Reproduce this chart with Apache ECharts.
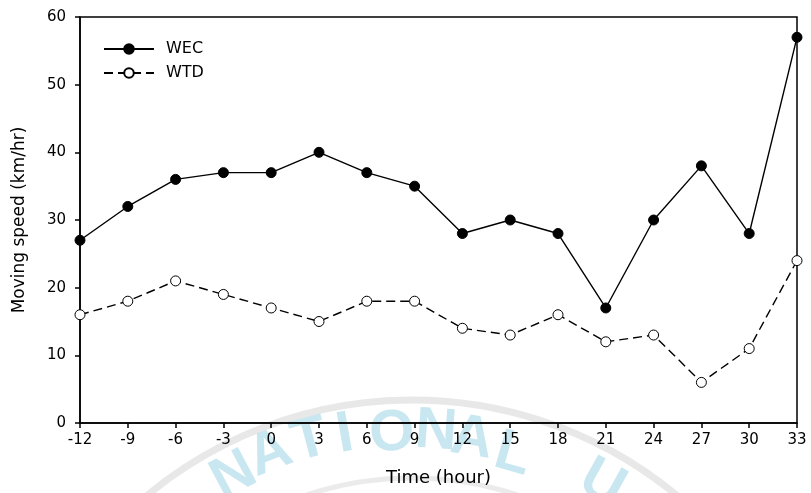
<!DOCTYPE html>
<html>
<head>
<meta charset="utf-8">
<script src="https://cdn.jsdelivr.net/npm/echarts@6/dist/echarts.min.js"></script>
<style>html,body{margin:0;padding:0;background:#fff}#c{width:811px;height:493px}</style>
</head>
<body>
<div id="c"></div>
<script>
const hours = [-12, -9, -6, -3, 0, 3, 6, 9, 12, 15, 18, 21, 24, 27, 30, 33];
const wec = [27, 32, 36, 37, 37, 40, 37, 35, 28, 30, 28, 17, 30, 38, 28, 57];
const wtd = [16, 18, 21, 19, 17, 15, 18, 18, 14, 13, 16, 12, 13, 6, 11, 24];
const seriesNames = ['WEC', 'WTD'];
const xTitle = 'Time (hour)';
const yTitle = 'Moving speed (km/hr)';

const FONT = '"DejaVu Sans", sans-serif';
const WMFONT = '"Liberation Sans", Arial, sans-serif';
const chart = echarts.init(document.getElementById('c'), null, {renderer: 'canvas'});

// watermark (decorative)
const wmLetters = [
  {t: 'N', x: 234, y: 476, r: 28},
  {t: 'A', x: 270, y: 454, r: 21},
  {t: 'T', x: 310, y: 441, r: 15},
  {t: 'I', x: 345, y: 435, r: 10},
  {t: 'O', x: 392, y: 434, r: 3},
  {t: 'N', x: 436, y: 432, r: -4},
  {t: 'A', x: 472, y: 439, r: -9},
  {t: 'L', x: 513, y: 455, r: -16},
  {t: 'U', x: 602, y: 484, r: -29}
];
const graphics = [
  {type: 'arc', z: -10, silent: true, shape: {cx: 412, cy: 815, r: 415, startAngle: Math.PI * 1.1, endAngle: Math.PI * 1.9},
   style: {stroke: 'rgba(190,190,190,0.35)', lineWidth: 7, fill: null}},
  {type: 'arc', z: -10, silent: true, shape: {cx: 412, cy: 815, r: 337, startAngle: Math.PI * 1.3, endAngle: Math.PI * 1.7},
   style: {stroke: 'rgba(190,190,190,0.3)', lineWidth: 5, fill: null}}
];
wmLetters.forEach(l => graphics.push({
  type: 'text', z: -9, silent: true, x: l.x, y: l.y, rotation: l.r * Math.PI / 180,
  style: {text: l.t, fill: 'rgba(120,195,220,0.4)', font: 'bold 58px ' + WMFONT, align: 'center', verticalAlign: 'middle'}
}));

chart.setOption({
  animation: false,
  backgroundColor: '#fff',
  graphic: graphics,
  grid: {left: 80, right: 14, top: 17, bottom: 70, show: true, borderColor: '#000', borderWidth: 1.5, backgroundColor: 'transparent'},
  legend: {
    orient: 'vertical', left: 98, top: 36, itemWidth: 50, itemHeight: 12, itemGap: 8,
    textStyle: {fontFamily: FONT, fontSize: 16, color: '#000', padding: [0, 0, 0, 7]},
    data: seriesNames
  },
  xAxis: {
    type: 'value', min: -12, max: 33, interval: 3,
    name: xTitle, nameLocation: 'middle', nameGap: 46,
    nameTextStyle: {fontFamily: FONT, fontSize: 18, color: '#000'},
    axisLine: {lineStyle: {color: '#000', width: 1.5}},
    axisTick: {inside: false, length: 5, lineStyle: {color: '#000', width: 1.5}},
    axisLabel: {fontFamily: FONT, fontSize: 15, color: '#000', margin: 10},
    splitLine: {show: false}
  },
  yAxis: {
    type: 'value', min: 0, max: 60, interval: 10,
    name: yTitle, nameLocation: 'middle', nameGap: 52,
    nameTextStyle: {fontFamily: FONT, fontSize: 17, color: '#000'},
    axisLine: {show: true, onZero: false, lineStyle: {color: '#000', width: 1.5}},
    axisTick: {show: true, inside: false, length: 5, lineStyle: {color: '#000', width: 1.5}},
    axisLabel: {fontFamily: FONT, fontSize: 15, color: '#000', margin: 14},
    splitLine: {show: false}
  },
  series: [
    {
      name: seriesNames[0], type: 'line', data: hours.map((h, i) => [h, wec[i]]),
      symbol: 'circle', symbolSize: 10,
      lineStyle: {color: '#000', width: 1.4},
      itemStyle: {color: '#000', borderColor: '#000', borderWidth: 1}
    },
    {
      name: seriesNames[1], type: 'line', data: hours.map((h, i) => [h, wtd[i]]),
      symbol: 'circle', symbolSize: 10,
      lineStyle: {color: '#000', width: 1.4, type: [9, 5]},
      itemStyle: {color: '#fff', borderColor: '#000', borderWidth: 1}
    }
  ]
});
</script>
</body>
</html>
